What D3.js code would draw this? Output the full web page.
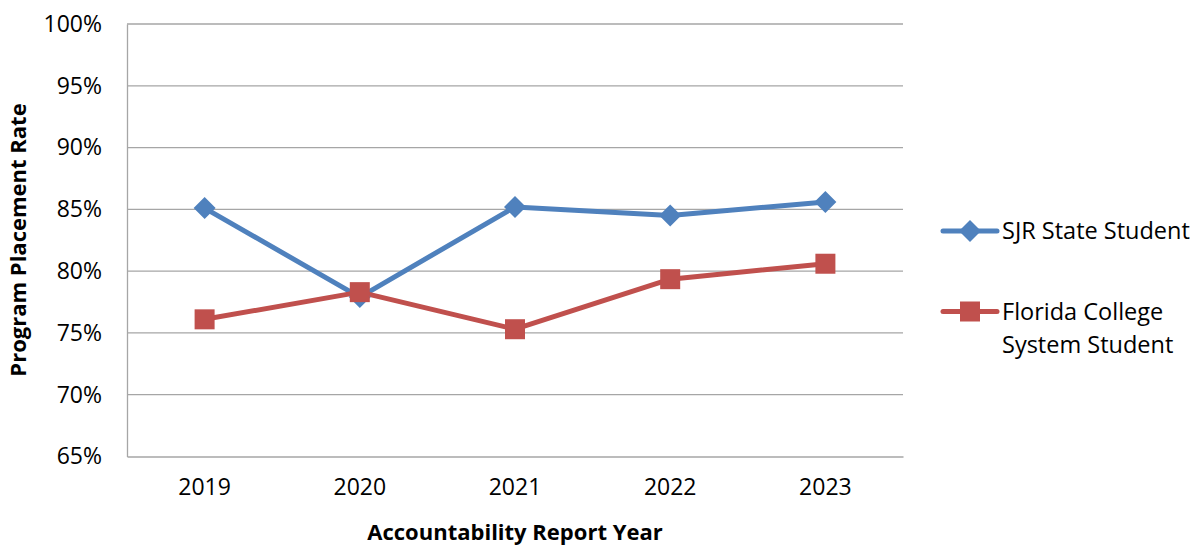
<!DOCTYPE html>
<html>
<head>
<meta charset="utf-8">
<script src="https://cdn.jsdelivr.net/npm/d3@7"></script>
<style>
  html, body { margin: 0; padding: 0; background: #fff; }
  svg { display: block; font-family: "Open Sans", "Liberation Sans", sans-serif; }
</style>
</head>
<body>
<svg id="chart" width="1200" height="545"></svg>
<script>
const years = ["2019", "2020", "2021", "2022", "2023"];
const sjrValues = [85.1, 77.9, 85.2, 84.5, 85.6];
const fcsValues = [76.1, 78.3, 75.3, 79.35, 80.6];
const yTicks = [65, 70, 75, 80, 85, 90, 95, 100];
const seriesNames = ["SJR State Student", "Florida College System Student"];
const seriesColors = ["#4F81BD", "#C0504D"];

const FONT = '"Open Sans", "Liberation Sans", sans-serif';
const svg = d3.select("#chart");

const x = d3.scaleBand().domain(years).range([127, 903]);
const y = d3.scaleLinear().domain([65, 100]).range([456.5, 24]);

// gridlines
svg.append("g").selectAll("line").data(yTicks.filter(t => t > 65)).join("line")
  .attr("x1", 127).attr("x2", 903)
  .attr("y1", d => y(d)).attr("y2", d => y(d))
  .attr("stroke", "#A6A6A6").attr("stroke-width", 1.3);

// axes
const yAxis = d3.axisLeft(y).tickValues(yTicks).tickSize(0).tickPadding(25)
  .tickFormat(d => d + "%");
const gy = svg.append("g").attr("transform", "translate(127,0)").call(yAxis)
  .attr("font-family", FONT).attr("font-size", 23);
gy.select(".domain").attr("stroke", "#A6A6A6").attr("stroke-width", 1.3);
gy.selectAll("text").attr("fill", "#000");

const xAxis = d3.axisBottom(x).tickSize(0).tickPadding(22);
const gx = svg.append("g").attr("transform", "translate(0,456.5)").call(xAxis)
  .attr("font-family", FONT).attr("font-size", 23);
gx.select(".domain").attr("stroke", "#A6A6A6").attr("stroke-width", 1.3);
gx.selectAll("text").attr("fill", "#000");

// axis titles
svg.append("text").attr("x", 515).attr("y", 540)
  .attr("text-anchor", "middle").attr("font-size", 22).attr("font-weight", "bold")
  .text("Accountability Report Year");
svg.append("text")
  .attr("transform", "translate(26,240) rotate(-90)")
  .attr("text-anchor", "middle").attr("font-size", 22).attr("font-weight", "bold")
  .text("Program Placement Rate");

const cx = d => x(d) + x.bandwidth() / 2;
const line = d3.line().x(d => cx(d.year)).y(d => y(d.v));

const series = [
  { name: seriesNames[0], color: seriesColors[0], values: sjrValues, shape: "diamond" },
  { name: seriesNames[1], color: seriesColors[1], values: fcsValues, shape: "square" }
];

series.forEach(s => {
  const pts = years.map((yr, i) => ({ year: yr, v: s.values[i] }));
  svg.append("path").datum(pts).attr("d", line)
    .attr("fill", "none").attr("stroke", s.color).attr("stroke-width", 5)
    .attr("stroke-linejoin", "round");
});

function marker(g, shape, color, px, py) {
  if (shape === "diamond") {
    g.append("path")
      .attr("d", `M${px},${py - 11}L${px + 11},${py}L${px},${py + 11}L${px - 11},${py}Z`)
      .attr("fill", color);
  } else {
    g.append("rect").attr("x", px - 10).attr("y", py - 10)
      .attr("width", 20).attr("height", 20).attr("fill", color);
  }
}

series.forEach(s => {
  const g = svg.append("g");
  years.forEach((yr, i) => marker(g, s.shape, s.color, cx(yr), y(s.values[i])));
});

// legend
const legendY = [231, 311.5];
series.forEach((s, i) => {
  const g = svg.append("g");
  g.append("line").attr("x1", 943).attr("x2", 997)
    .attr("y1", legendY[i]).attr("y2", legendY[i])
    .attr("stroke", s.color).attr("stroke-width", 5).attr("stroke-linecap", "round");
  marker(g, s.shape, s.color, 970, legendY[i]);
});
svg.append("text").attr("x", 1002).attr("y", legendY[0] + 8)
  .attr("font-size", 23.5).text("SJR State Student");
const t2 = svg.append("text").attr("x", 1002).attr("y", legendY[1] + 8).attr("font-size", 23.5);
t2.append("tspan").attr("x", 1002).text("Florida College");
t2.append("tspan").attr("x", 1002).attr("dy", 33).text("System Student");
</script>
</body>
</html>
